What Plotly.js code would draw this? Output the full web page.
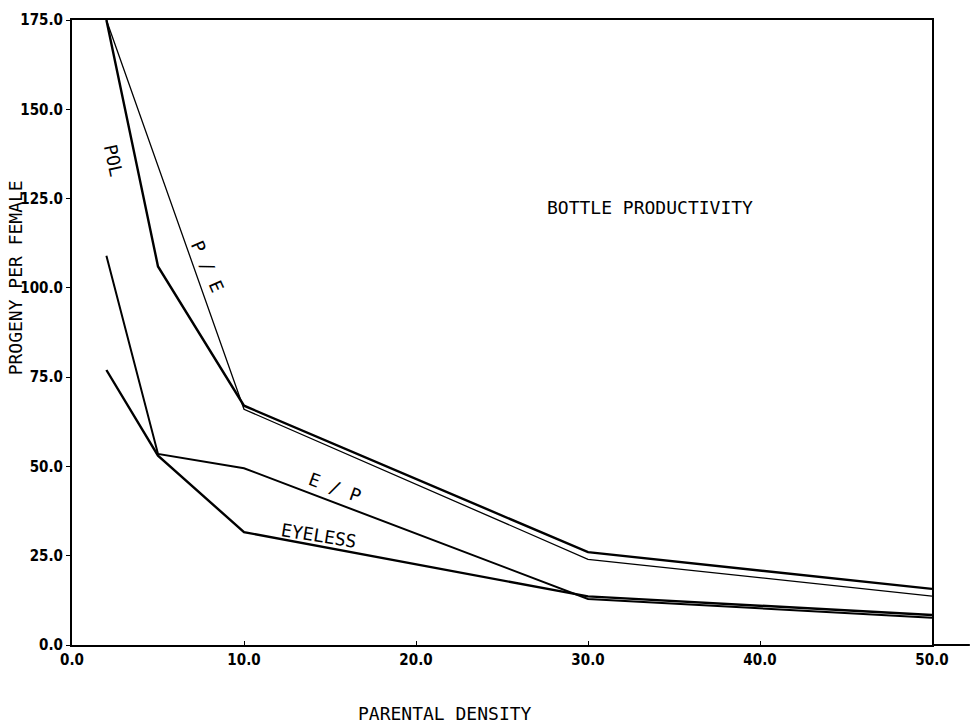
<!DOCTYPE html>
<html>
<head>
<meta charset="utf-8">
<script src="https://cdn.plot.ly/plotly-3.0.1.min.js"></script>
<style>html,body{margin:0;padding:0;background:#fff;}#chart{width:980px;height:727px;}</style>
</head>
<body>
<div id="chart"></div>
<script>
// Parental density (x) values
var density = [2, 5, 10, 30, 50];
// Progeny per female for each strain/mixture
var polValues = [175, 106, 67, 26, 15.7];
var peValues = [175, 134, 66, 24, 13.7];
var epValues = [109, 53.5, 49.5, 12.9, 7.6];
var eyelessValues = [77, 53, 31.6, 13.6, 8.4];
// Axis ticks
var xTicks = [0, 10, 20, 30, 40, 50];
var xTickText = ["0.0", "10.0", "20.0", "30.0", "40.0", "50.0"];
var yTicks = [0, 25, 50, 75, 100, 125, 150, 175];
var yTickText = ["0.0", "25.0", "50.0", "75.0", "100.0", "125.0", "150.0", "175.0"];

var lbl = {family: "DejaVu Sans Mono, monospace", size: 18, color: "#000"};
var tickf = {family: "DejaVu Sans Condensed, Liberation Sans Narrow, DejaVu Sans, sans-serif", size: 15, color: "#000", weight: 700};

var traces = [
  {x: density, y: polValues, mode: "lines", line: {color: "#000", width: 2.4}, name: "POL"},
  {x: density, y: peValues, mode: "lines", line: {color: "#000", width: 1.3}, name: "P / E"},
  {x: density, y: epValues, mode: "lines", line: {color: "#000", width: 2}, name: "E / P"},
  {x: density, y: eyelessValues, mode: "lines", line: {color: "#000", width: 2.4}, name: "EYELESS"}
];

function ann(x, y, ref, text, angle) {
  return {x: x, y: y, xref: ref === "data" ? "x" : "paper", yref: ref === "data" ? "y" : "paper",
    text: text, showarrow: false, textangle: angle || 0, font: lbl, xanchor: "center", yanchor: "middle"};
}

var layout = {
  width: 980, height: 727,
  margin: {l: 72, r: 48, t: 20, b: 82},
  paper_bgcolor: "#fff", plot_bgcolor: "#fff",
  showlegend: false,
  xaxis: {
    range: [0, 50], tickvals: xTicks, ticktext: xTickText,
    showgrid: false, zeroline: false, showline: true, mirror: true,
    linecolor: "#000", linewidth: 2, ticks: "inside", ticklen: 4, tickcolor: "#000",
    tickfont: tickf
  },
  yaxis: {
    range: [0, 175], tickvals: yTicks, ticktext: yTickText,
    showgrid: false, zeroline: false, showline: true, mirror: true,
    linecolor: "#000", linewidth: 2, ticks: "outside", ticklen: 4, tickcolor: "#000",
    tickfont: tickf
  },
  shapes: [
    {type: "line", xref: "paper", yref: "paper", x0: 1, x1: 1.044, y0: 0, y1: 0, line: {color: "#000", width: 2}}
  ],
  annotations: [
    ann(2.44, 135.5, "data", "POL", 78),
    ann(7.9, 106.1, "data", "P / E", 66),
    ann(15.3, 44.2, "data", "E / P", 20),
    ann(14.36, 30.8, "data", "EYELESS", 9),
    ann(33.6, 122.4, "data", "BOTTLE PRODUCTIVITY", 0),
    ann(0.434, -0.109, "paper", "PARENTAL DENSITY", 0),
    ann(-0.066, 0.587, "paper", "PROGENY PER FEMALE", -90)
  ]
};

Plotly.newPlot("chart", traces, layout, {displayModeBar: false, staticPlot: true});
</script>
</body>
</html>
